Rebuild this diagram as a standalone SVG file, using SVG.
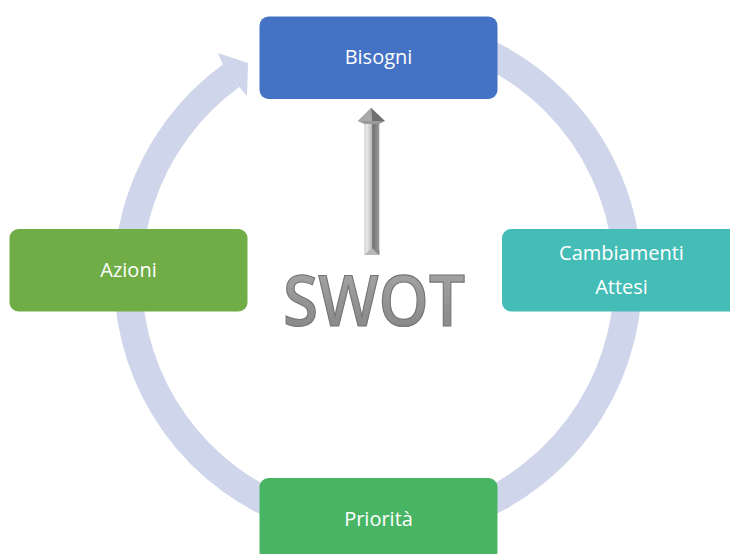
<svg xmlns="http://www.w3.org/2000/svg" width="730" height="554" viewBox="0 0 730 554">
<defs>
<style>
.ring{fill:none;stroke:#CFD5EA;stroke-width:28;stroke-linecap:butt}
.lbl{font-family:"Open Sans","Liberation Sans",sans-serif;font-size:20px;fill:#FFFFFF;text-anchor:middle}
.swot{font-family:"Open Sans","Liberation Sans",sans-serif;font-size:70px;font-weight:600;fill:url(#swotG);stroke:#747474;stroke-width:1.2}
</style>
<linearGradient id="swotG" x1="0" y1="0" x2="0" y2="1">
<stop offset="0" stop-color="#ADADAD"/>
<stop offset="0.5" stop-color="#959595"/>
<stop offset="1" stop-color="#828282"/>
</linearGradient>
<linearGradient id="shaftG" x1="364" y1="0" x2="379" y2="0" gradientUnits="userSpaceOnUse">
<stop offset="0" stop-color="#CDCDCD"/>
<stop offset="0.2" stop-color="#E8E8E8"/>
<stop offset="0.5" stop-color="#BDBDBD"/>
<stop offset="0.58" stop-color="#707070"/>
<stop offset="1" stop-color="#9A9A9A"/>
</linearGradient>
</defs>
<rect width="730" height="554" fill="#FFFFFF"/>
<g id="connectors">
<path class="ring" d="M490,54.5 A250,250 0 0 1 378,528 A250,250 0 0 1 231.05,75.75"/>
<polygon points="222.8,64.4 218,53 248,63 247,96 239.3,87.1" fill="#CFD5EA"/>
<g id="swot-arrow">
<rect x="364.3" y="121" width="15" height="134" fill="url(#shaftG)"/>
<polygon points="364.3,255 371.8,248 379.3,255" fill="#B8B8B8"/>
<polygon points="371.8,248 379.3,255 379.3,250" fill="#8A8A8A"/>
<polygon points="357.7,121 371,107.7 371.8,121" fill="#A9A9A9"/>
<polygon points="371,107.7 385,121 371.8,121" fill="#6F6F6F"/>
<polygon points="357.7,121 385,121 379.3,124 364.3,124" fill="#9A9A9A"/>
</g>
</g>
<g id="node-bisogni">
<rect x="259.5" y="16.5" width="238" height="82.5" rx="9" fill="#4472C4"/>
<text class="lbl" x="378.5" y="64">Bisogni</text>
</g>
<g id="node-cambiamenti">
<rect x="502" y="229" width="238" height="82.5" rx="9" fill="#44BDB6"/>
<text class="lbl" x="621.5" y="260">Cambiamenti</text>
<text class="lbl" x="621.5" y="294">Attesi</text>
</g>
<g id="node-azioni">
<rect x="9.5" y="229" width="238" height="82.5" rx="9" fill="#70AD47"/>
<text class="lbl" x="128.5" y="277">Azioni</text>
</g>
<g id="node-priorita">
<rect x="259.5" y="478" width="238" height="82.5" rx="9" fill="#48B565"/>
<text class="lbl" x="378.5" y="526">Priorità</text>
</g>
<g id="node-swot">
<text class="swot" x="283" y="326" textLength="182" lengthAdjust="spacingAndGlyphs">SWOT</text>
</g>
</svg>
